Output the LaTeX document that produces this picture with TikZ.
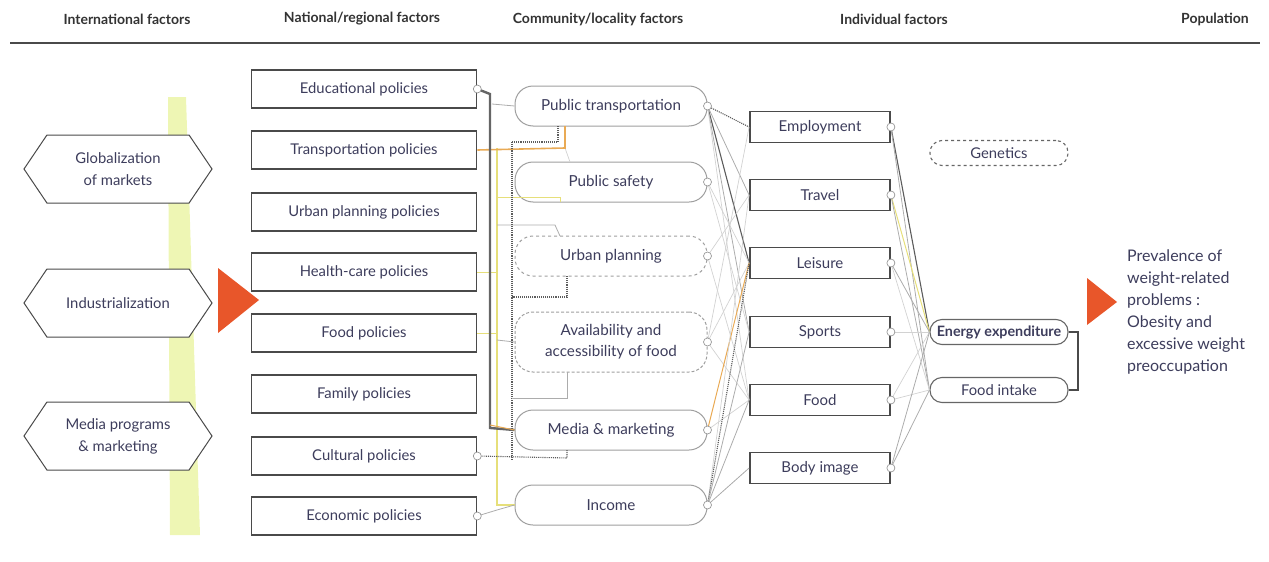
\documentclass[tikz,border=0pt]{standalone}
\usepackage{fontspec}
\setmainfont{Lato}
\usetikzlibrary{shapes.symbols}
\definecolor{txt}{HTML}{3D3D5C}
\definecolor{hdrc}{HTML}{333333}
\definecolor{dk}{HTML}{4A4A4A}
\definecolor{band}{HTML}{EEF6B4}
\definecolor{arr}{HTML}{E8562A}
\definecolor{yel}{HTML}{E6DF7A}
\definecolor{ora}{HTML}{E9AA55}
\tikzset{
  pol/.style={draw=dk, line width=1.6pt, minimum width=225pt, minimum height=38pt, inner sep=0pt, fill=white, text=txt, font=\fontsize{14.8}{16}\selectfont},
  comm/.style={draw=gray!75, line width=1pt, rounded corners=18pt, minimum width=192pt, minimum height=40pt, inner sep=0pt, fill=white, text=txt, font=\fontsize{15.2}{21}\selectfont},
  indiv/.style={draw=dk, line width=1.8pt, minimum width=140pt, minimum height=31pt, inner sep=0pt, fill=white, text=txt, font=\fontsize{15}{16}\selectfont},
  outc/.style={draw=gray!80!black, line width=1.1pt, rounded corners=12pt, minimum width=138pt, minimum height=25pt, inner sep=0pt, fill=white, text=txt, font=\fontsize{14.8}{16}\selectfont},
  hexa/.style={signal, signal to=east and west, signal pointer angle=112, draw=dk, line width=1pt, minimum width=188pt, minimum height=68pt, inner sep=0pt, align=center, fill=white, text=txt, font=\fontsize{14.8}{22}\selectfont},
  port/.style={circle, draw=gray!80, fill=white, inner sep=0pt, minimum size=8pt, line width=0.7pt},
  hdr/.style={font=\fontsize{14}{16}\selectfont\bfseries, text=hdrc},
  lkdark/.style={draw=dk!90, line width=1.1pt},
  lk/.style={draw=gray!65, line width=0.8pt},
  lklight/.style={draw=gray!35, line width=0.7pt},
  lkyel/.style={draw=yel, line width=1pt},
  lkora/.style={draw=ora, line width=1pt},
  bus/.style={draw=dk!85, line width=2.4pt},
}
\begin{document}
\begin{tikzpicture}[x=1pt,y=-1pt]
\useasboundingbox (0,0) rectangle (1269,562);
% yellow band
\fill[band] (168,97) -- (186,97) -- (200,535) -- (170,535) -- cycle;
% headers
\node[hdr] (h1) at (127,19) {International factors};
\node[hdr] (h2) at (362,19) {National/regional factors};
\node[hdr] (h3) at (598,19) {Community/locality factors};
\node[hdr] (h4) at (894,19) {Individual factors};
\node[hdr] (h5) at (1215,19) {Population};
\coordinate (rl) at (10,43);
\coordinate (rr) at (1260,43);
\draw[dk, line width=2pt] (rl) -- (rr);
% international
\node[hexa] (glob) at (118,169) {Globalization\\of markets};
\node[hexa] (indu) at (118,303) {Industrialization};
\node[hexa] (medp) at (118,436) {Media programs\\\& marketing};
\fill[arr] (218,268) -- (259,300) -- (218,333) -- cycle;
% policies
\node[pol] (edu) at (364,89) {Educational policies};
\node[pol] (tra) at (364,150) {Transportation policies};
\node[pol] (urb) at (364,212) {Urban planning policies};
\node[pol] (hea) at (364,272) {Health-care policies};
\node[pol] (fpo) at (364,333) {Food policies};
\node[pol] (fam) at (364,394) {Family policies};
\node[pol] (cul) at (364,456) {Cultural policies};
\node[pol] (eco) at (364,516) {Economic policies};
% community
\node[comm] (pt) at (611,106) {Public transportation};
\node[comm] (ps) at (611,182) {Public safety};
\node[comm, dashed] (up) at (611,256) {Urban planning};
\node[comm, densely dashed, minimum height=60pt, align=center] (av) at (611,342) {Availability and\\accessibility of food};
\node[comm] (mm) at (611,430) {Media \& marketing};
\node[comm] (inc) at (611,505) {Income};
% individual
\node[indiv] (emp) at (820,127) {Employment};
\node[indiv] (trv) at (820,195) {Travel};
\node[indiv] (lei) at (820,263) {Leisure};
\node[indiv] (spo) at (820,332) {Sports};
\node[indiv] (foo) at (820,400) {Food};
\node[indiv] (bod) at (820,468) {Body image};
% outcomes
\node[outc, dashed] (gen) at (999,153) {Genetics};
\node[outc, font=\fontsize{14.3}{16}\selectfont\bfseries] (ee) at (999,332) {Energy expenditure};
\node[outc] (fi) at (999,390) {Food intake};
\coordinate (b1) at (1078,332);
\coordinate (b2) at (1078,390);
\draw[dk, line width=1.2pt] (ee.east) -- (b1) -- (b2) -- (fi.east);
\fill[arr] (1087,278) -- (1117,302) -- (1087,325) -- cycle;
\node[anchor=north west, align=left, text=txt, font=\fontsize{16}{22}\selectfont, inner sep=0pt] (prev) at (1127,250) {Prevalence of\\weight-related\\problems :\\Obesity and\\excessive weight\\preoccupation};
% ports
\coordinate (edup) at (edu.east);
\coordinate (culp) at (cul.east);
\coordinate (ecop) at (eco.east);
\foreach \n in {pt,ps,up,av,mm,inc,emp,trv,lei,spo,foo,bod} {\coordinate (\n p) at (\n.east);}
% left bus
\coordinate (bt) at (490,94);
\coordinate (bb) at (490,428);
\coordinate (bpt) at (492,104);
\coordinate (yt) at (497,148);
\coordinate (yb) at (497,505);
\coordinate (t1) at (565,148);
\coordinate (t2) at (565,126);
\coordinate (d1) at (512,142);
\coordinate (d2) at (558,142);
\coordinate (d3) at (558,126);
\coordinate (dt) at (512,142);
\coordinate (db) at (512,460);
\coordinate (u1) at (567,297);
\coordinate (u2) at (512,297);
\coordinate (a1) at (567,398);
\coordinate (a2) at (512,398);
\coordinate (c1) at (567,458);
\coordinate (c2) at (567,450);
\coordinate (e1) at (497,510);
\coordinate (hh) at (497,272);
\coordinate (f1) at (497,333);
\coordinate (f2) at (497,340);
\coordinate (s1) at (570,162);
\coordinate (p1) at (497,225);
\coordinate (p2) at (555,225);
\coordinate (p3) at (560,236);
\coordinate (q1) at (497,197);
\coordinate (q2) at (560,197);
\coordinate (q3) at (560,202);
\coordinate (ub) at (567,276);
\coordinate (ab) at (567,372);
\coordinate (bo) at (490,425);
\draw[lkyel, line width=1.6pt] (yt) -- (yb) -- (inc.west);
\draw[lkyel] (hea.east) -- (hh);
\draw[lkyel] (fpo.east) -- (f1);
\draw[lkyel] (q1) -- (q2) -- (q3);
\draw[lk] (f2) -- (av.west);
\draw[lklight] (s1) -- (t1);
\draw[lk] (p1) -- (p2) -- (p3);
\draw[lkora, line width=1.6pt] (tra.east) -- (t1) -- (t2);
\draw[lkdark, densely dotted] (d1) -- (d2) -- (d3);
\draw[lkdark, densely dotted] (dt) -- (db);
\draw[lkdark, densely dotted] (ub) -- (u1) -- (u2);
\draw[lk] (ab) -- (a1) -- (a2);
\draw[lkdark, densely dotted] (culp) -- (c1) -- (c2);
\draw[lk] (ecop) -- (e1) -- (inc.west);
\draw[lk] (bpt) -- (pt.west);
\draw[bus] (edup) -- (bt) -- (bb) -- (mm.west);
\draw[lkora] (bo) -- (mm.west);
% community -> individual
\draw[lkdark, densely dotted] (ptp) -- (emp.west);
\draw[lkdark] (ptp) -- (lei.west);
\draw[lk] (ptp) -- (trv.west);
\draw[lk] (ptp) -- (spo.west);
\draw[lklight] (ptp) -- (foo.west);
\draw[lklight] (psp) -- (lei.west);
\draw[lklight] (psp) -- (spo.west);
\draw[lklight] (upp) -- (trv.west);
\draw[lklight] (upp) -- (foo.west);
\draw[lklight] (avp) -- (emp.west);
\draw[lklight] (avp) -- (lei.west);
\draw[lklight] (avp) -- (foo.west);
\draw[lkora] (mmp) -- (lei.west);
\draw[lklight] (mmp) -- (foo.west);
\draw[lklight] (incp) -- (trv.west);
\draw[lkdark, densely dotted] (incp) -- (lei.west);
\draw[lk] (incp) -- (spo.west);
\draw[lk] (incp) -- (foo.west);
\draw[lk] (incp) -- (bod.west);
% individual -> outcomes
\draw[lkdark] (empp) -- (ee.west);
\draw[lk] (empp) -- (fi.west);
\draw[lkyel] (trvp) -- (ee.west);
\draw[lk] (trvp) -- (fi.west);
\draw[lk] (leip) -- (ee.west);
\draw[lklight] (leip) -- (fi.west);
\draw[lklight] (spop) -- (ee.west);
\draw[lklight] (foop) -- (fi.west);
\draw[lklight] (foop) -- (ee.west);
\draw[lk] (bodp) -- (fi.west);
\draw[lk] (bodp) -- (ee.west);
% port circles
\foreach \n in {edup,culp,ecop,ptp,psp,upp,avp,mmp,incp,empp,trvp,leip,spop,foop,bodp} {\node[port] (\n c) at (\n) {};}
\end{tikzpicture}
\end{document}
